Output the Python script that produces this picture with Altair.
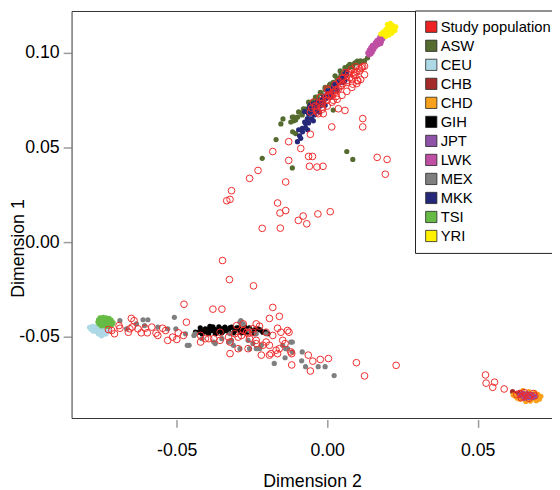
import altair as alt
import pandas as pd

populations = ["Study population", "ASW", "CEU", "CHB", "CHD", "GIH", "JPT",
               "LWK", "MEX", "MKK", "TSI", "YRI"]
colors = ["#EE2222", "#556B2F", "#ADD8E6", "#A52A2A", "#F9A11B", "#000000",
          "#8E52A8", "#BF4FA3", "#7F7F7F", "#252879", "#66BB44", "#FFF000"]

# (Dimension 2, Dimension 1)
asw = [(0.0134, 0.0974), (0.0124, 0.0958), (0.0110, 0.0950), (0.0100, 0.0957), (0.0092, 0.0948),
       (0.0075, 0.0939), (0.0059, 0.0922), (0.0043, 0.0905), (0.0043, 0.0870), (0.0026, 0.0879),
       (0.0010, 0.0835), (-0.0007, 0.0818), (-0.0007, 0.0757), (-0.0023, 0.0792), (-0.0029, 0.0731),
       (-0.0039, 0.0766), (-0.0039, 0.0714), (-0.0062, 0.0740), (-0.0062, 0.0698), (-0.0079, 0.0705),
       (-0.0083, 0.0672), (-0.0095, 0.0688), (-0.0111, 0.0661), (-0.0116, 0.0661), (-0.0105, 0.0646),
       (-0.0121, 0.0635), (-0.0147, 0.0651), (-0.0154, 0.0625), (-0.0115, 0.0583), (-0.0105, 0.0574),
       (0.0020, 0.0698), (0.0065, 0.0479), (0.0085, 0.0437), (-0.0116, 0.0392), (-0.0170, 0.0542),
       (-0.0216, 0.0443), (0.0070, 0.0930), (0.0085, 0.0925),
       (-0.0111, 0.0641), (-0.0098, 0.0661), (-0.0085, 0.0682), (-0.0072, 0.0703), (-0.0059, 0.0724),
       (-0.0046, 0.0745), (-0.0033, 0.0766), (-0.0020, 0.0786), (-0.0007, 0.0807), (0.0007, 0.0828),
       (0.0020, 0.0844), (0.0033, 0.0865), (0.0046, 0.0885), (0.0059, 0.0901), (0.0072, 0.0922),
       (0.0085, 0.0937), (0.0098, 0.0948), (0.0111, 0.0958)]
ceu = [(-0.0790, -0.0450), (-0.0780, -0.0445), (-0.0770, -0.0448), (-0.0760, -0.0450), (-0.0750, -0.0452),
       (-0.0740, -0.0455), (-0.0785, -0.0460), (-0.0775, -0.0458), (-0.0765, -0.0462), (-0.0755, -0.0463),
       (-0.0745, -0.0465), (-0.0735, -0.0462), (-0.0725, -0.0460), (-0.0778, -0.0470), (-0.0768, -0.0472),
       (-0.0758, -0.0475), (-0.0748, -0.0478), (-0.0738, -0.0475), (-0.0728, -0.0470), (-0.0760, -0.0485),
       (-0.0745, -0.0488), (-0.0750, -0.0495), (-0.0735, -0.0485)]
chb = [(0.0616, -0.0790), (0.0625, -0.0800), (0.0640, -0.0795), (0.0655, -0.0805), (0.0635, -0.0815),
       (0.0670, -0.0800), (0.0650, -0.0820), (0.0685, -0.0810)]
chd = [(0.0625, -0.0815), (0.0640, -0.0830), (0.0660, -0.0835), (0.0680, -0.0830), (0.0695, -0.0820),
       (0.0700, -0.0805), (0.0690, -0.0795), (0.0670, -0.0790), (0.0650, -0.0785), (0.0705, -0.0830),
       (0.0632, -0.0825), (0.0675, -0.0840), (0.0618, -0.0808), (0.0710, -0.0815), (0.0660, -0.0842),
       (0.0695, -0.0838)]
gih = [(-0.0438, -0.0476), (-0.0427, -0.0476), (-0.0416, -0.0467), (-0.0405, -0.0458), (-0.0394, -0.0462),
       (-0.0383, -0.0467), (-0.0372, -0.0462), (-0.0361, -0.0467), (-0.0350, -0.0458), (-0.0340, -0.0449),
       (-0.0334, -0.0467), (-0.0318, -0.0449), (-0.0307, -0.0467), (-0.0290, -0.0467), (-0.0274, -0.0449),
       (-0.0263, -0.0476), (-0.0252, -0.0467), (-0.0230, -0.0458), (-0.0214, -0.0476), (-0.0197, -0.0484),
       (-0.0416, -0.0484), (-0.0394, -0.0484), (-0.0372, -0.0484), (-0.0350, -0.0479), (-0.0274, -0.0476),
       (-0.0241, -0.0484), (-0.0390, -0.0445), (-0.0360, -0.0448), (-0.0327, -0.0474), (-0.0301, -0.0453),
       (-0.0285, -0.0479), (-0.0422, -0.0453), (-0.0403, -0.0474), (-0.0380, -0.0448), (-0.0367, -0.0479),
       (-0.0344, -0.0469), (-0.0324, -0.0453), (-0.0311, -0.0479), (-0.0295, -0.0453), (-0.0278, -0.0464),
       (-0.0259, -0.0453), (-0.0242, -0.0464), (-0.0223, -0.0464), (-0.0206, -0.0474)]
jpt = [(0.0645, -0.0805), (0.0660, -0.0815), (0.0675, -0.0815), (0.0665, -0.0800), (0.0685, -0.0820),
       (0.0655, -0.0825), (0.0640, -0.0810), (0.0680, -0.0805), (0.0650, -0.0798), (0.0670, -0.0822),
       (0.0690, -0.0815)]
lwk = [(0.0175, 0.1085), (0.0185, 0.1075), (0.0170, 0.1070), (0.0180, 0.1060), (0.0160, 0.1055),
       (0.0170, 0.1045), (0.0150, 0.1040), (0.0162, 0.1035), (0.0145, 0.1028), (0.0155, 0.1020),
       (0.0140, 0.1015), (0.0150, 0.1005), (0.0135, 0.1000), (0.0145, 0.0995), (0.0178, 0.1050),
       (0.0165, 0.1065), (0.0138, 0.0990)]
mex = [(-0.0689, -0.0415), (-0.0612, -0.0410), (-0.0596, -0.0410), (-0.0667, -0.0458), (-0.0508, -0.0397),
       (-0.0503, -0.0458), (-0.0530, -0.0458), (-0.0459, -0.0545), (-0.0438, -0.0484), (-0.0443, -0.0493),
       (-0.0372, -0.0536), (-0.0287, -0.0415), (-0.0279, -0.0432), (-0.0258, -0.0467), (-0.0203, -0.0484),
       (-0.0176, -0.0641), (-0.0140, -0.0611), (-0.0138, -0.0563), (-0.0121, -0.0528), (-0.0323, -0.0484),
       (-0.0236, -0.0484), (-0.0225, -0.0563), (-0.0312, -0.0545), (-0.0607, -0.0441), (-0.0634, -0.0432),
       (-0.0563, -0.0449), (-0.0471, -0.0484), (-0.0465, -0.0545), (-0.0416, -0.0510), (-0.0377, -0.0528),
       (-0.0350, -0.0510), (-0.0328, -0.0528), (-0.0290, -0.0423), (-0.0318, -0.0519), (-0.0263, -0.0519),
       (-0.0219, -0.0545), (-0.0258, -0.0563), (-0.0116, -0.0580), (-0.0116, -0.0528), (-0.0132, -0.0563),
       (-0.0083, -0.0580), (-0.0085, -0.0627), (-0.0072, -0.0658), (-0.0030, -0.0658), (-0.0007, -0.0658),
       (0.0023, -0.0705), (-0.0290, -0.0563), (-0.0236, -0.0563), (-0.0247, -0.0536), (-0.0148, -0.0545)]
mkk = [(0.0065, 0.0887), (0.0052, 0.0870), (0.0043, 0.0854), (0.0032, 0.0835), (0.0020, 0.0818),
       (0.0010, 0.0802), (-0.0001, 0.0783), (-0.0013, 0.0766), (-0.0023, 0.0750), (-0.0034, 0.0740),
       (-0.0046, 0.0731), (-0.0056, 0.0724), (-0.0039, 0.0705), (-0.0050, 0.0696), (-0.0062, 0.0679),
       (-0.0066, 0.0653), (-0.0072, 0.0627), (-0.0083, 0.0601), (-0.0095, 0.0594), (-0.0088, 0.0549),
       (-0.0099, 0.0531), (-0.0029, 0.0724), (-0.0017, 0.0740), (-0.0007, 0.0757), (0.0003, 0.0776),
       (0.0015, 0.0792), (0.0032, 0.0809), (0.0048, 0.0844), (0.0059, 0.0854), (-0.0060, 0.0710),
       (-0.0075, 0.0690), (-0.0045, 0.0715), (0.0000, 0.0800), (0.0025, 0.0825),
       (-0.0092, 0.0562), (-0.0082, 0.0583), (-0.0072, 0.0604), (-0.0062, 0.0630), (-0.0052, 0.0651),
       (-0.0043, 0.0672), (-0.0033, 0.0693), (-0.0023, 0.0719), (-0.0013, 0.0740), (-0.0003, 0.0760),
       (0.0007, 0.0781), (0.0016, 0.0802), (0.0026, 0.0823), (0.0036, 0.0844), (0.0046, 0.0865),
       (0.0056, 0.0885), (0.0065, 0.0901), (-0.0075, 0.0635), (-0.0059, 0.0677), (-0.0039, 0.0714),
       (-0.0020, 0.0745), (0.0003, 0.0797), (0.0023, 0.0833), (-0.0065, 0.0594), (-0.0046, 0.0641),
       (-0.0026, 0.0687), (-0.0007, 0.0724), (0.0013, 0.0766), (0.0033, 0.0802), (0.0052, 0.0844)]
tsi = [(-0.0755, -0.0400), (-0.0745, -0.0398), (-0.0735, -0.0400), (-0.0725, -0.0403), (-0.0760, -0.0410),
       (-0.0750, -0.0412), (-0.0740, -0.0410), (-0.0730, -0.0413), (-0.0718, -0.0412), (-0.0762, -0.0422),
       (-0.0752, -0.0423), (-0.0742, -0.0420), (-0.0732, -0.0423), (-0.0722, -0.0422), (-0.0712, -0.0425),
       (-0.0758, -0.0433), (-0.0745, -0.0433), (-0.0735, -0.0435), (-0.0725, -0.0433), (-0.0715, -0.0435),
       (-0.0750, -0.0443), (-0.0738, -0.0443), (-0.0728, -0.0445)]
yri = [(0.0200, 0.1150), (0.0210, 0.1156), (0.0218, 0.1145), (0.0205, 0.1135), (0.0220, 0.1130),
       (0.0195, 0.1125), (0.0212, 0.1120), (0.0225, 0.1118), (0.0185, 0.1110), (0.0200, 0.1108),
       (0.0215, 0.1105), (0.0190, 0.1098), (0.0205, 0.1095), (0.0178, 0.1100), (0.0195, 0.1088),
       (0.0228, 0.1138), (0.0212, 0.1140)]

study = [
    # upper diagonal
    (0.0114, 0.0922), (0.0092, 0.0896), (0.0102, 0.0854), (0.0081, 0.0861), (0.0070, 0.0887),
    (0.0065, 0.0844), (0.0048, 0.0828), (0.0052, 0.0870), (0.0037, 0.0809), (0.0026, 0.0792),
    (0.0020, 0.0750), (0.0015, 0.0776), (0.0004, 0.0776), (-0.0001, 0.0750), (-0.0017, 0.0731),
    (-0.0017, 0.0714), (-0.0034, 0.0698), (-0.0029, 0.0679), (-0.0056, 0.0688), (-0.0013, 0.0679),
    (0.0037, 0.0705), (0.0059, 0.0696), (0.0015, 0.0609), (0.0118, 0.0653), (0.0118, 0.0609),
    (-0.0056, 0.0570), (-0.0128, 0.0531), (-0.0088, 0.0495), (-0.0062, 0.0453), (-0.0049, 0.0453),
    (-0.0128, 0.0432), (-0.0059, 0.0401), (-0.0034, 0.0397), (-0.0014, 0.0401), (0.0166, 0.0448),
    (0.0199, 0.0437), (0.0193, 0.0359), (0.0100, 0.0853), (0.0081, 0.0913), (0.0059, 0.0896),
    (0.0092, 0.0879), (0.0124, 0.0930), (0.0108, 0.0905), (0.0085, 0.0835), (0.0030, 0.0770),
    (-0.0040, 0.0720), (0.0040, 0.0850), (0.0000, 0.0810),
    (-0.0052, 0.0708), (-0.0039, 0.0719), (-0.0026, 0.0734), (-0.0016, 0.0750), (-0.0003, 0.0766),
    (0.0007, 0.0776), (0.0020, 0.0792), (0.0029, 0.0807), (0.0043, 0.0823), (0.0052, 0.0838),
    (0.0065, 0.0854), (0.0075, 0.0870), (0.0088, 0.0885), (0.0098, 0.0901), (0.0108, 0.0917),
    (0.0118, 0.0927), (-0.0033, 0.0687), (-0.0016, 0.0703), (0.0000, 0.0719), (0.0016, 0.0740),
    (0.0033, 0.0755), (0.0049, 0.0776), (0.0065, 0.0797), (0.0082, 0.0818), (0.0098, 0.0838),
    (0.0111, 0.0859), (0.0124, 0.0885), (-0.0046, 0.0740), (-0.0023, 0.0766), (0.0003, 0.0802),
    (0.0026, 0.0833), (0.0049, 0.0865), (0.0072, 0.0896), (0.0095, 0.0927),
    # middle
    (-0.0165, 0.0207), (-0.0157, 0.0154), (-0.0138, 0.0167), (-0.0096, 0.0115), (-0.0080, 0.0138),
    (-0.0068, 0.0097), (-0.0031, 0.0149), (0.0010, 0.0161), (-0.0230, 0.0379), (-0.0258, 0.0337),
    (-0.0138, 0.0318), (-0.0318, 0.0272), (-0.0323, 0.0226), (-0.0334, 0.0219), (-0.0216, 0.0073),
    (-0.0156, 0.0074), (-0.0181, 0.0479),
    # lower band
    (-0.0727, -0.0462), (-0.0716, -0.0467), (-0.0707, -0.0484), (-0.0692, -0.0441), (-0.0689, -0.0455),
    (-0.0661, -0.0476), (-0.0656, -0.0458), (-0.0651, -0.0403), (-0.0642, -0.0415), (-0.0648, -0.0449),
    (-0.0629, -0.0458), (-0.0618, -0.0479), (-0.0605, -0.0455), (-0.0598, -0.0479), (-0.0583, -0.0449),
    (-0.0569, -0.0481), (-0.0563, -0.0493), (-0.0547, -0.0455), (-0.0537, -0.0467), (-0.0530, -0.0519),
    (-0.0514, -0.0502), (-0.0500, -0.0514), (-0.0495, -0.0479), (-0.0478, -0.0493), (-0.0476, -0.0328),
    (-0.0468, -0.0423), (-0.0421, -0.0493), (-0.0405, -0.0510), (-0.0380, -0.0354), (-0.0350, -0.0354),
    (-0.0356, -0.0476), (-0.0323, -0.0589), (-0.0325, -0.0198), (-0.0348, -0.0097), (-0.0245, -0.0231),
    (-0.0181, -0.0345), (-0.0159, -0.0392), (-0.0192, -0.0403), (-0.0165, -0.0455), (-0.0132, -0.0467),
    (-0.0127, -0.0476), (-0.0140, -0.0536), (-0.0118, -0.0589), (-0.0118, -0.0649), (-0.0192, -0.0597),
    (-0.0219, -0.0597), (-0.0236, -0.0432), (-0.0225, -0.0444), (-0.0301, -0.0441), (-0.0307, -0.0484),
    (-0.0296, -0.0502), (-0.0279, -0.0467), (-0.0263, -0.0484), (-0.0247, -0.0458), (-0.0296, -0.0563),
    (-0.0263, -0.0563), (-0.0236, -0.0536), (-0.0214, -0.0545), (-0.0192, -0.0545), (-0.0170, -0.0571),
    (-0.0148, -0.0519), (-0.0377, -0.0510), (-0.0356, -0.0519), (-0.0328, -0.0502), (-0.0323, -0.0528),
    (-0.0421, -0.0528), (-0.0394, -0.0510), (-0.0285, -0.0493), (-0.0279, -0.0432), (-0.0258, -0.0510),
    (-0.0236, -0.0519), (-0.0203, -0.0528), (-0.0187, -0.0589), (-0.0165, -0.0589), (-0.0154, -0.0476),
    (-0.0121, -0.0580), (-0.0063, -0.0597), (-0.0048, -0.0629), (-0.0056, -0.0681), (-0.0023, -0.0620),
    (0.0004, -0.0615), (0.0097, -0.0637), (0.0124, -0.0707), (0.0229, -0.0651), (-0.0159, -0.0563),
    (-0.0203, -0.0476), (-0.0181, -0.0493), (-0.0268, -0.0476), (-0.0247, -0.0476),
    # right cluster
    (0.0526, -0.0702), (0.0528, -0.0745), (0.0556, -0.0740), (0.0550, -0.0767), (0.0588, -0.0776),
    (0.0640, -0.0800), (0.0660, -0.0810), (0.0675, -0.0810), (0.0650, -0.0815), (0.0630, -0.0805),
    (0.0690, -0.0812), (0.0655, -0.0795), (0.0670, -0.0825), (0.0645, -0.0822), (0.0685, -0.0800),
]

ref_groups = [("ASW", asw), ("CEU", ceu), ("CHB", chb), ("CHD", chd), ("GIH", gih),
              ("JPT", jpt), ("LWK", lwk), ("MEX", mex), ("MKK", mkk), ("TSI", tsi), ("YRI", yri)]

ref_df = pd.DataFrame([{"pop": p, "dim2": a, "dim1": b} for p, pts in ref_groups for a, b in pts])
study_df = pd.DataFrame([{"pop": "Study population", "dim2": a, "dim1": b} for a, b in study])

W, H = 487, 413
FONT = "Liberation Sans"
x_scale = alt.Scale(domain=[-0.0848, 0.0747], nice=False, zero=False)
y_scale = alt.Scale(domain=[-0.0932, 0.1219], nice=False, zero=False)
minus_fix = "replace(datum.label, '\u2212', '-')"

x_axis = alt.Axis(values=[-0.05, 0, 0.05], format=".2f", labelExpr=minus_fix, domain=False, grid=False,
                  tickSize=8, tickColor="#9a9a9a", tickWidth=1.5, offset=1,
                  labelFont=FONT, labelFontSize=18, labelColor="black", labelPadding=15,
                  title="Dimension 2", titleFont=FONT, titleFontSize=18, titleFontWeight="normal",
                  titleColor="black", titleY=63, titleBaseline="middle")
y_axis = alt.Axis(values=[-0.05, 0, 0.05, 0.1], format=".2f", labelExpr=minus_fix, domain=False, grid=False,
                  tickSize=8, tickColor="#9a9a9a", tickWidth=1.5, offset=1,
                  labelFont=FONT, labelFontSize=18, labelColor="black", labelPadding=4,
                  title="Dimension 1", titleFont=FONT, titleFontSize=18, titleFontWeight="normal",
                  titleColor="black", titleX=-53, titleY=240, titleAngle=270,
                  titleBaseline="middle", titleAlign="center")

legend = alt.Legend(orient="none", legendX=348, legendY=-1, title=None, fillColor="white",
                    strokeColor="#222222", padding=9, symbolType="square", symbolSize=130,
                    symbolStrokeColor="#222222", symbolStrokeWidth=0.8, symbolOpacity=1,
                    labelFont=FONT, labelFontSize=15, labelColor="black", rowPadding=3.3,
                    labelOffset=2, labelLimit=400, zindex=2,
                    labelExpr="datum.label == 'Study population' ? datum.label : '\u00a0' + datum.label")

frame_df = pd.DataFrame({"k": [0]})
frame_top = alt.Chart(frame_df).mark_rule(color="#333333", strokeWidth=1).encode(
    x=alt.value(0), x2=alt.value(W + 10), y=alt.value(0))
frame_left = alt.Chart(frame_df).mark_rule(color="#333333", strokeWidth=1).encode(
    x=alt.value(0), y=alt.value(0), y2=alt.value(H))
frame_bottom = alt.Chart(frame_df).mark_rule(color="#333333", strokeWidth=1).encode(
    x=alt.value(0), x2=alt.value(W + 10), y=alt.value(H))

ref_layer = alt.Chart(ref_df).mark_circle(size=28, opacity=1).encode(
    x=alt.X("dim2:Q", scale=x_scale, axis=x_axis),
    y=alt.Y("dim1:Q", scale=y_scale, axis=y_axis),
    color=alt.Color("pop:N", scale=alt.Scale(domain=populations, range=colors), legend=legend),
)
study_layer = alt.Chart(study_df).mark_point(shape="circle", filled=False, size=46, strokeWidth=1,
                                            color="#EE2C2C", opacity=1).encode(
    x=alt.X("dim2:Q", scale=x_scale, axis=x_axis),
    y=alt.Y("dim1:Q", scale=y_scale, axis=y_axis),
)

chart = alt.layer(frame_top, frame_left, frame_bottom, ref_layer, study_layer).properties(
    width=W, height=H, autosize="none",
    padding={"left": 65, "top": 0, "right": 0, "bottom": 69},
).configure_view(stroke=None)

chart.save("out.html", embed_options={"renderer": "svg", "actions": False})
